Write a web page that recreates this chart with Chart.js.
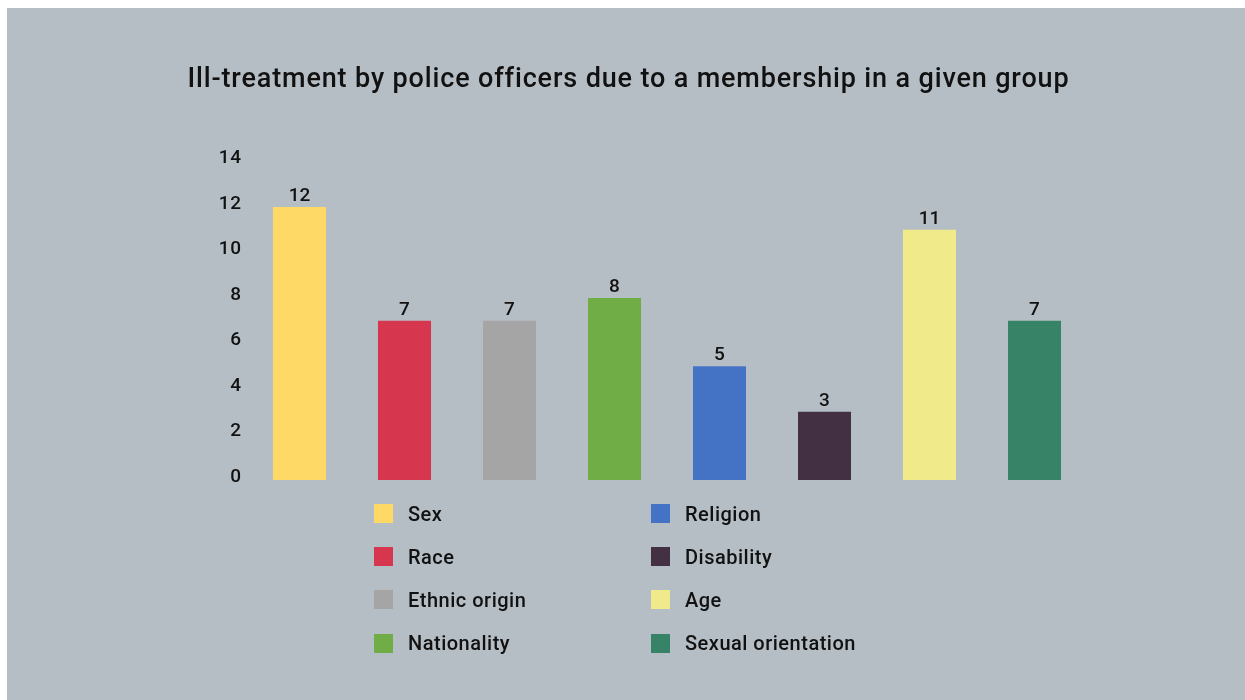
<!DOCTYPE html>
<html>
<head>
<meta charset="utf-8">
<script src="https://cdn.jsdelivr.net/npm/chart.js@4.4.1/dist/chart.umd.min.js"></script>
<style>
  html, body { margin: 0; padding: 0; background: #ffffff; }
  body { width: 1245px; height: 700px; position: relative; overflow: hidden; }
  #panel { position: absolute; left: 7px; top: 8px; width: 1238px; height: 692px; background: #b6bec5; }
  #chart { position: absolute; left: 0; top: 0; }
  #legend { position: absolute; left: 367px; top: 484px; display: grid;
            grid-template-columns: 277px 260px; grid-template-rows: repeat(4, 43.2px);
            grid-auto-flow: column; font-family: Roboto, sans-serif; font-weight: 500;
            font-size: 20px; letter-spacing: 0.5px; color: #111; }
  .item { display: flex; align-items: center; }
  .swatch { width: 19px; height: 19px; margin-right: 15px; flex: none; }
</style>
</head>
<body>
<div id="panel">
  <canvas id="chart" width="1238" height="692"></canvas>
  <div id="legend"></div>
</div>
<script>
const titleText = 'Ill-treatment by police officers due to a membership in a given group';
const categories = ['Sex', 'Race', 'Ethnic origin', 'Nationality', 'Religion', 'Disability', 'Age', 'Sexual orientation'];
const counts = [12, 7, 7, 8, 5, 3, 11, 7];
const barColors = ['#ffd966', '#d6374e', '#a5a5a5', '#70ad47', '#4472c4', '#433043', '#f0ea8a', '#368367'];
const yTicks = [0, 2, 4, 6, 8, 10, 12, 14];

const textColor = '#111111';
const fontFamily = 'Roboto, sans-serif';

// Slightly open letter spacing for the canvas text (title and axis labels)
const spacing = {
  id: 'spacing',
  beforeDraw(chart) { chart.ctx.letterSpacing = '0.85px'; },
  afterDraw(chart) { chart.ctx.letterSpacing = '0px'; }
};

// Numbers printed above each bar, placed from the bar elements themselves
const valueLabels = {
  id: 'valueLabels',
  afterDatasetsDraw(chart) {
    const ctx = chart.ctx;
    const meta = chart.getDatasetMeta(0);
    ctx.save();
    ctx.letterSpacing = '0px';
    ctx.font = '500 19px ' + fontFamily;
    ctx.fillStyle = textColor;
    ctx.textAlign = 'center';
    ctx.textBaseline = 'alphabetic';
    meta.data.forEach((bar, i) => {
      ctx.fillText(String(counts[i]), bar.x, bar.y - 6);
    });
    ctx.restore();
  }
};

new Chart(document.getElementById('chart'), {
  type: 'bar',
  data: {
    labels: categories,
    datasets: [{
      data: counts,
      backgroundColor: barColors,
      borderWidth: 0,
      categoryPercentage: 1,
      barPercentage: 0.505
    }]
  },
  options: {
    responsive: false,
    animation: false,
    layout: { padding: { left: 163, right: 158, top: 0, bottom: 220 } },
    plugins: {
      legend: { display: false },
      tooltip: { enabled: false },
      title: {
        display: true,
        text: titleText,
        color: textColor,
        font: { family: fontFamily, size: 27, weight: '500', lineHeight: 1.2 },
        padding: { top: 56, bottom: 65 }
      }
    },
    scales: {
      x: { display: false },
      y: {
        min: 0,
        max: 14,
        afterFit(scale) { scale.width = 77; },
        afterBuildTicks(scale) { scale.ticks = yTicks.map(v => ({ value: v })); },
        grid: { display: false, drawTicks: false },
        border: { display: false },
        ticks: {
          padding: 5,
          labelOffset: -3,
          color: textColor,
          font: { family: fontFamily, size: 19, weight: '500' }
        }
      }
    }
  },
  plugins: [spacing, valueLabels]
});

// Two-column legend, filled top to bottom
const legend = document.getElementById('legend');
categories.forEach((name, i) => {
  const item = document.createElement('div');
  item.className = 'item';
  const sw = document.createElement('span');
  sw.className = 'swatch';
  sw.style.background = barColors[i];
  const label = document.createElement('span');
  label.textContent = name;
  item.appendChild(sw);
  item.appendChild(label);
  legend.appendChild(item);
});
</script>
</body>
</html>
